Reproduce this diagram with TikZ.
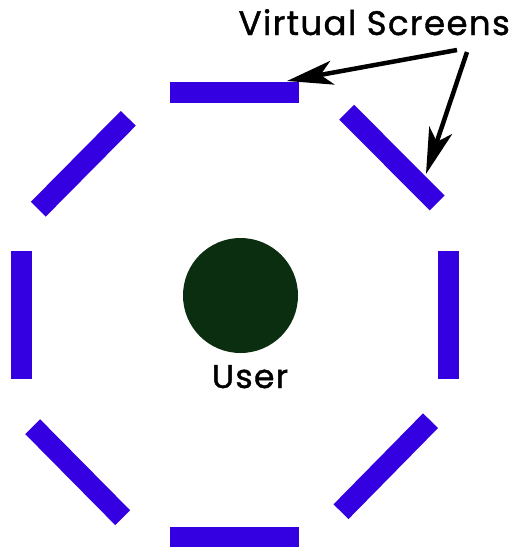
\documentclass[tikz,border=0pt]{standalone}
\usepackage{fontspec}
\setmainfont{Poppins}
\newfontfamily\lblfont{Poppins}[FakeBold=1.2,LetterSpace=4]
\usetikzlibrary{arrows.meta}
\definecolor{screenblue}{RGB}{52,0,226}
\definecolor{userdark}{RGB}{11,46,16}
\tikzset{
  screen/.style={draw=screenblue, line width=21pt, line cap=butt},
  pointer/.style={draw=black, line width=4.5pt, -{Stealth[length=46pt,width=24pt,inset=12pt]}},
  lbl/.style={inner sep=0pt, font=\lblfont\fontsize{34}{36}\selectfont}
}
\begin{document}
\begin{tikzpicture}[x=1pt,y=-1pt]
\useasboundingbox[fill=white] (0,0) rectangle (513,547);
% screens
\coordinate (t1) at (170,92.5); \coordinate (t2) at (299,92.5);
\coordinate (b1) at (170,537.5); \coordinate (b2) at (299,537.5);
\coordinate (l1) at (21.5,251); \coordinate (l2) at (21.5,379);
\coordinate (r1) at (448.5,251); \coordinate (r2) at (448.5,379);
\coordinate (tl1) at (128.3,118.3); \coordinate (tl2) at (38.3,209.2);
\coordinate (tr1) at (346.7,112.2); \coordinate (tr2) at (437.2,203);
\coordinate (bl1) at (32.7,426.7); \coordinate (bl2) at (122.7,517.7);
\coordinate (br1) at (430.5,420.7); \coordinate (br2) at (341,511.7);
\draw[screen] (t1) -- (t2);
\draw[screen] (b1) -- (b2);
\draw[screen] (l1) -- (l2);
\draw[screen] (r1) -- (r2);
\draw[screen] (tl1) -- (tl2);
\draw[screen] (tr1) -- (tr2);
\draw[screen] (bl1) -- (bl2);
\draw[screen] (br1) -- (br2);
% user
\node[circle, fill=userdark, minimum size=115pt, inner sep=0pt] (user) at (240.5,295.5) {};
\node[lbl, font=\lblfont\fontsize{33}{35}\selectfont, anchor=base] (userlbl) at (250,388) {User};
% labels and pointers
\node[lbl, anchor=base east] (vs) at (510,35) {Virtual Screens};
\coordinate (s1) at (457,50);
\coordinate (s2) at (467,52);
\coordinate (h1) at (287,81);
\coordinate (h2) at (426,174);
\draw[pointer] (s1) -- (h1);
\draw[pointer] (s2) -- (h2);
\end{tikzpicture}
\end{document}
